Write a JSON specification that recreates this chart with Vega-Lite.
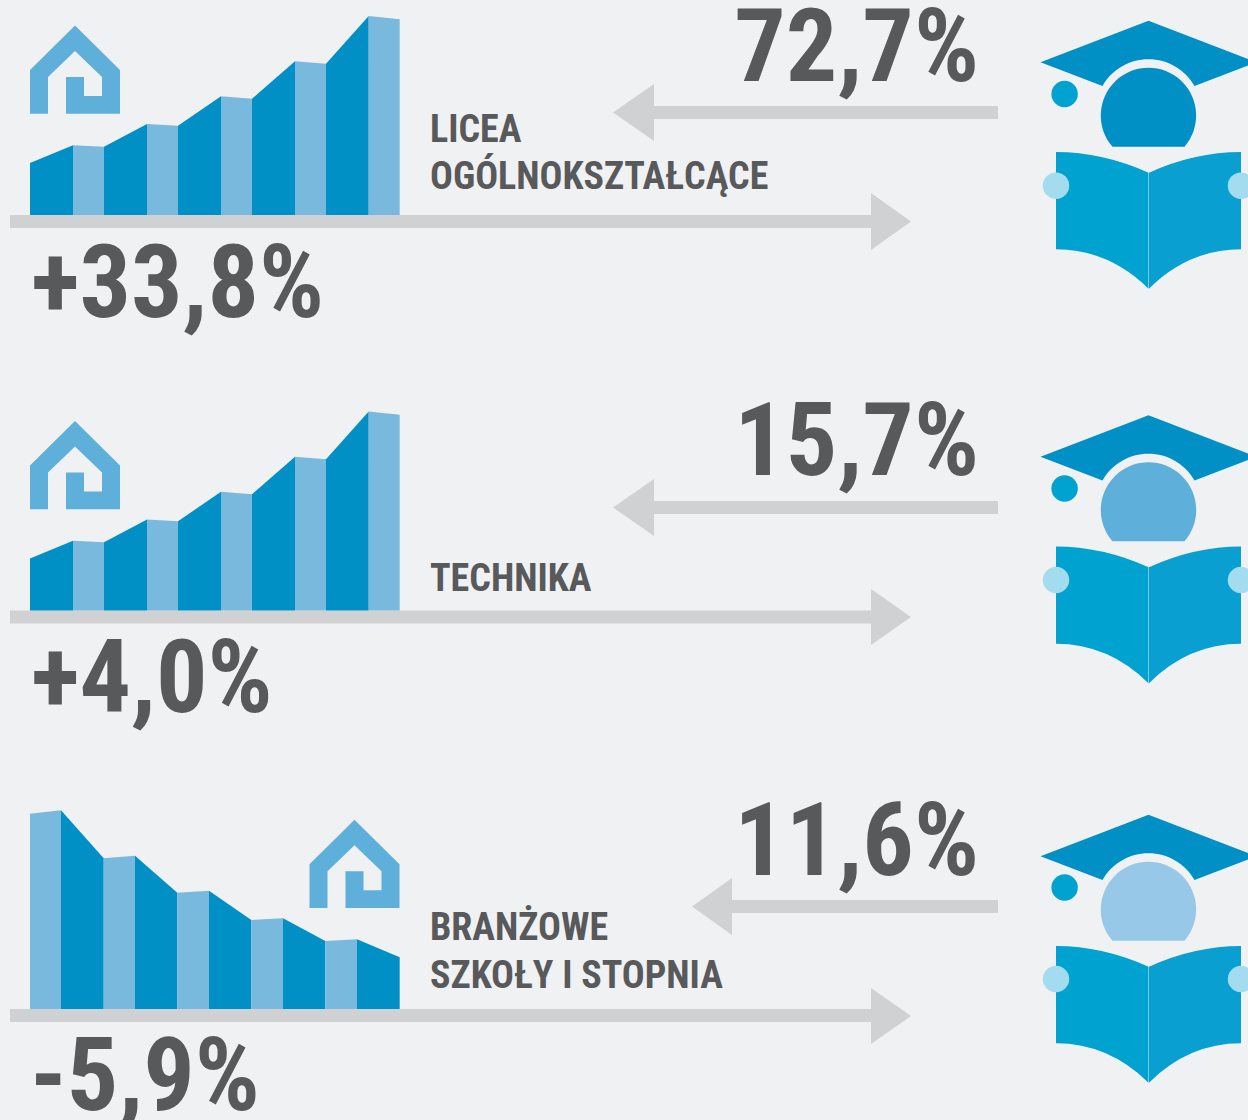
{
"$schema":"https://vega.github.io/schema/vega-lite/v6.json",
"width":1248,"height":1120,"padding":0,"autosize":{"type":"none"},
"background":"#f0f1f3",
"view":{"stroke":null},
"config":{"axis":{"disable":true}},
"datasets":{
"bars":[
{"p":1,"s":1,"k":"dark","x":30,"top":163,"base":215},{"p":1,"s":1,"k":"dark","x":73,"top":145.3,"base":215},
{"p":1,"s":2,"k":"light","x":73,"top":145.3,"base":215},{"p":1,"s":2,"k":"light","x":104,"top":146.7,"base":215},
{"p":1,"s":3,"k":"dark","x":104,"top":146.7,"base":215},{"p":1,"s":3,"k":"dark","x":147,"top":124,"base":215},
{"p":1,"s":4,"k":"light","x":147,"top":124,"base":215},{"p":1,"s":4,"k":"light","x":178,"top":125.7,"base":215},
{"p":1,"s":5,"k":"dark","x":178,"top":125.7,"base":215},{"p":1,"s":5,"k":"dark","x":221,"top":96.3,"base":215},
{"p":1,"s":6,"k":"light","x":221,"top":96.3,"base":215},{"p":1,"s":6,"k":"light","x":252,"top":98.7,"base":215},
{"p":1,"s":7,"k":"dark","x":252,"top":98.7,"base":215},{"p":1,"s":7,"k":"dark","x":295,"top":61.3,"base":215},
{"p":1,"s":8,"k":"light","x":295,"top":61.3,"base":215},{"p":1,"s":8,"k":"light","x":326,"top":63.7,"base":215},
{"p":1,"s":9,"k":"dark","x":326,"top":63.7,"base":215},{"p":1,"s":9,"k":"dark","x":368.7,"top":16,"base":215},
{"p":1,"s":10,"k":"light","x":368.7,"top":16,"base":215},{"p":1,"s":10,"k":"light","x":399.7,"top":19.3,"base":215},

{"p":2,"s":1,"k":"dark","x":30,"top":558.5,"base":610.5},{"p":2,"s":1,"k":"dark","x":73,"top":540.8,"base":610.5},
{"p":2,"s":2,"k":"light","x":73,"top":540.8,"base":610.5},{"p":2,"s":2,"k":"light","x":104,"top":542.2,"base":610.5},
{"p":2,"s":3,"k":"dark","x":104,"top":542.2,"base":610.5},{"p":2,"s":3,"k":"dark","x":147,"top":519.5,"base":610.5},
{"p":2,"s":4,"k":"light","x":147,"top":519.5,"base":610.5},{"p":2,"s":4,"k":"light","x":178,"top":521.2,"base":610.5},
{"p":2,"s":5,"k":"dark","x":178,"top":521.2,"base":610.5},{"p":2,"s":5,"k":"dark","x":221,"top":491.8,"base":610.5},
{"p":2,"s":6,"k":"light","x":221,"top":491.8,"base":610.5},{"p":2,"s":6,"k":"light","x":252,"top":494.2,"base":610.5},
{"p":2,"s":7,"k":"dark","x":252,"top":494.2,"base":610.5},{"p":2,"s":7,"k":"dark","x":295,"top":456.8,"base":610.5},
{"p":2,"s":8,"k":"light","x":295,"top":456.8,"base":610.5},{"p":2,"s":8,"k":"light","x":326,"top":459.2,"base":610.5},
{"p":2,"s":9,"k":"dark","x":326,"top":459.2,"base":610.5},{"p":2,"s":9,"k":"dark","x":368.7,"top":411.5,"base":610.5},
{"p":2,"s":10,"k":"light","x":368.7,"top":411.5,"base":610.5},{"p":2,"s":10,"k":"light","x":399.7,"top":414.8,"base":610.5},

{"p":3,"s":1,"k":"light","x":30,"top":813.7,"base":1009},{"p":3,"s":1,"k":"light","x":61,"top":810.3,"base":1009},
{"p":3,"s":2,"k":"dark","x":61,"top":810.3,"base":1009},{"p":3,"s":2,"k":"dark","x":103.7,"top":858.3,"base":1009},
{"p":3,"s":3,"k":"light","x":103.7,"top":858.3,"base":1009},{"p":3,"s":3,"k":"light","x":135,"top":855.7,"base":1009},
{"p":3,"s":4,"k":"dark","x":135,"top":855.7,"base":1009},{"p":3,"s":4,"k":"dark","x":177.3,"top":892.7,"base":1009},
{"p":3,"s":5,"k":"light","x":177.3,"top":892.7,"base":1009},{"p":3,"s":5,"k":"light","x":209,"top":890.7,"base":1009},
{"p":3,"s":6,"k":"dark","x":209,"top":890.7,"base":1009},{"p":3,"s":6,"k":"dark","x":251.3,"top":920,"base":1009},
{"p":3,"s":7,"k":"light","x":251.3,"top":920,"base":1009},{"p":3,"s":7,"k":"light","x":283,"top":918.3,"base":1009},
{"p":3,"s":8,"k":"dark","x":283,"top":918.3,"base":1009},{"p":3,"s":8,"k":"dark","x":325.3,"top":941,"base":1009},
{"p":3,"s":9,"k":"light","x":325.3,"top":941,"base":1009},{"p":3,"s":9,"k":"light","x":357,"top":939.3,"base":1009},
{"p":3,"s":10,"k":"dark","x":357,"top":939.3,"base":1009},{"p":3,"s":10,"k":"dark","x":399.7,"top":957.3,"base":1009}
],
"shafts":[
{"x":10,"x2":871,"y":215,"y2":228},{"x":10,"x2":871,"y":610.5,"y2":623.5},{"x":10,"x2":871,"y":1009,"y2":1022},
{"x":653,"x2":998,"y":106,"y2":119},{"x":653,"x2":998,"y":501,"y2":514},{"x":731,"x2":998,"y":900,"y2":913}
],
"rightHeads":[
{"p":1,"x":871,"t":193,"b":250},{"p":1,"x":911,"t":221.5,"b":221.5},
{"p":2,"x":871,"t":589,"b":645},{"p":2,"x":911,"t":617,"b":617},
{"p":3,"x":871,"t":988,"b":1044},{"p":3,"x":911,"t":1016,"b":1016},
{"p":4,"x":613,"t":112.5,"b":112.5},{"p":4,"x":654,"t":84,"b":141},
{"p":5,"x":613,"t":507.5,"b":507.5},{"p":5,"x":654,"t":479,"b":536},
{"p":6,"x":692,"t":906.5,"b":906.5},{"p":6,"x":732,"t":878,"b":935}
],
"houses":[{"x":75,"y":70},{"x":75,"y":465.5},{"x":354.5,"y":864.3}],
"icons":[{"x":1148.5,"y":115,"h":"a"},{"x":1148.5,"y":509.5,"h":"b"},{"x":1148.5,"y":909,"h":"c"}],
"dots":[
{"x":1064.6,"y":94,"k":"d"},{"x":1064.6,"y":488.5,"k":"d"},{"x":1064.6,"y":887.5,"k":"d"},
{"x":1056,"y":185.7,"k":"h"},{"x":1241,"y":185.7,"k":"h"},{"x":1056,"y":580,"k":"h"},{"x":1241,"y":580,"k":"h"},{"x":1056,"y":979,"k":"h"},{"x":1241,"y":979,"k":"h"}
],
"bigR":[{"x":979,"y":81,"t":"72,7%"},{"x":979,"y":475,"t":"15,7%"},{"x":979,"y":875,"t":"11,6%"}],
"bigL":[{"x":31,"y":317,"t":"+33,8%"},{"x":31,"y":712,"t":"+4,0%"},{"x":30,"y":1110,"t":"-5,9%"}],
"labels":[
{"x":430,"y":142,"t":"LICEA"},{"x":430,"y":189,"t":"OGÓLNOKSZTAŁCĄCE"},
{"x":430,"y":591,"t":"TECHNIKA"},
{"x":430,"y":940,"t":"BRANŻOWE"},{"x":430,"y":988,"t":"SZKOŁY I STOPNIA"}
]
},
"layer":[
{"data":{"name":"shafts"},"mark":{"type":"rect","color":"#d0d1d3"},
 "encoding":{"x":{"field":"x","type":"quantitative","scale":{"domain":[0,1248],"nice":false,"zero":false},"axis":null},"x2":{"field":"x2"},
 "y":{"field":"y","type":"quantitative","scale":{"domain":[1120,0],"nice":false,"zero":false},"axis":null},"y2":{"field":"y2"}}},
{"data":{"name":"rightHeads"},"mark":{"type":"area","color":"#d0d1d3","orient":"vertical"},
 "encoding":{"x":{"field":"x","type":"quantitative"},"y":{"field":"t","type":"quantitative"},"y2":{"field":"b"},"detail":{"field":"p"}}},
{"data":{"name":"bars"},"mark":{"type":"area","orient":"vertical"},
 "encoding":{"x":{"field":"x","type":"quantitative"},"y":{"field":"top","type":"quantitative"},"y2":{"field":"base"},
 "detail":[{"field":"p"},{"field":"s"}],
 "color":{"field":"k","type":"nominal","scale":{"domain":["dark","light"],"range":["#0090c6","#7ab9de"]},"legend":null}}},
{"data":{"name":"houses"},"mark":{"type":"point","filled":true,"color":"#5eb0da","size":4,"opacity":1,"strokeWidth":0,
 "shape":"M-45 43.7V0L0 -44.5L45 0V43.7H-9V7H9V26H27V7L0 -19L-27 7V43.7Z"},
 "encoding":{"x":{"field":"x","type":"quantitative"},"y":{"field":"y","type":"quantitative"}}},
{"data":{"name":"icons"},"mark":{"type":"point","filled":true,"color":"#0090c6","size":4,"opacity":1,"strokeWidth":0,
 "shape":"M0 -94.3L108 -52.7L46 -29A53 53 0 0 0 -46 -29L-108 -52.7Z"},
 "encoding":{"x":{"field":"x","type":"quantitative"},"y":{"field":"y","type":"quantitative"}}},
{"data":{"name":"icons"},"mark":{"type":"point","filled":true,"size":4,"opacity":1,"strokeWidth":0,
 "shape":"M-36 31.7A47.7 47.7 0 1 1 36 31.7Z"},
 "encoding":{"x":{"field":"x","type":"quantitative"},"y":{"field":"y","type":"quantitative"},
 "color":{"field":"h","type":"nominal","scale":{"domain":["a","b","c"],"range":["#0090c6","#5eb0da","#98c8e7"]},"legend":null}}},
{"data":{"name":"icons"},"mark":{"type":"point","filled":true,"color":"#00a3d0","size":4,"opacity":1,"strokeWidth":0,
 "shape":"M-92.5 37Q-46 37 0 57.7V173.7Q-40 134.3 -92.5 134.3Z"},
 "encoding":{"x":{"field":"x","type":"quantitative"},"y":{"field":"y","type":"quantitative"}}},
{"data":{"name":"icons"},"mark":{"type":"point","filled":true,"color":"#09a0d1","size":4,"opacity":1,"strokeWidth":0,
 "shape":"M92.5 37Q46 37 0.5 57.7V173.7Q40 134.3 92.5 134.3Z"},
 "encoding":{"x":{"field":"x","type":"quantitative"},"y":{"field":"y","type":"quantitative"}}},
{"data":{"name":"dots"},"mark":{"type":"circle","size":700,"opacity":1},
 "encoding":{"x":{"field":"x","type":"quantitative"},"y":{"field":"y","type":"quantitative"},
 "color":{"field":"k","type":"nominal","scale":{"domain":["d","h"],"range":["#00a3d0","#a3dcef"]},"legend":null}}},
{"data":{"name":"bigR"},"mark":{"type":"text","align":"right","baseline":"alphabetic","font":"Roboto Condensed","fontWeight":"bold","fontSize":102,"color":"#58595b"},
 "encoding":{"x":{"field":"x","type":"quantitative"},"y":{"field":"y","type":"quantitative"},"text":{"field":"t"}}},
{"data":{"name":"bigL"},"mark":{"type":"text","align":"left","baseline":"alphabetic","font":"Roboto Condensed","fontWeight":"bold","fontSize":102,"color":"#58595b"},
 "encoding":{"x":{"field":"x","type":"quantitative"},"y":{"field":"y","type":"quantitative"},"text":{"field":"t"}}},
{"data":{"name":"labels"},"mark":{"type":"text","align":"left","baseline":"alphabetic","font":"Roboto Condensed","fontWeight":"bold","fontSize":38,"color":"#58595b"},
 "encoding":{"x":{"field":"x","type":"quantitative"},"y":{"field":"y","type":"quantitative"},"text":{"field":"t"}}}
],
"resolve":{"scale":{"color":"independent"}}
}
